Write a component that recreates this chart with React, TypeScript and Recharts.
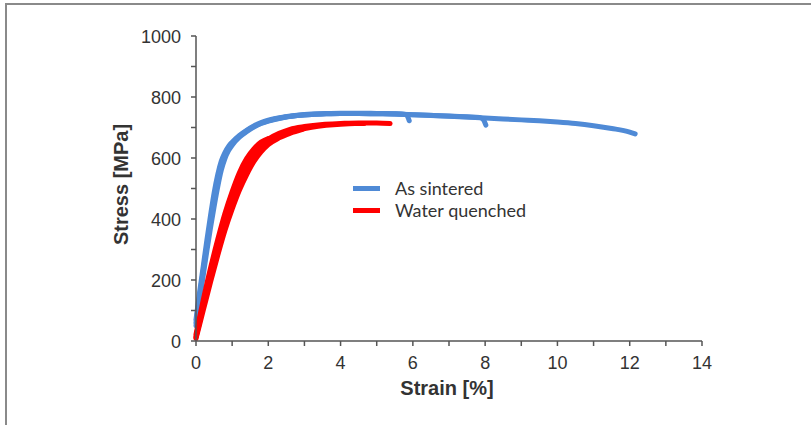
import React from 'react';
import { LineChart, Line, XAxis, YAxis, Legend, Label } from 'recharts';

// Axis ticks
const xTicks = [0, 1, 2, 3, 4, 5, 6, 7, 8, 9, 10, 11, 12, 13, 14];
const yTicks = [0, 100, 200, 300, 400, 500, 600, 700, 800, 900, 1000];

// As sintered – specimen A (fails ~5.9 %)
const sinteredStrainA = [0, 0.1, 0.2, 0.3, 0.4, 0.5, 0.6, 0.7, 0.8, 0.9, 1.0, 1.2, 1.4, 1.6, 1.8, 2.0, 2.4, 2.8, 3.2, 3.6, 4.0, 4.5, 5.0, 5.5, 5.8, 5.86, 5.9];
const sinteredStressA = [70, 160, 245, 330, 410, 485, 545, 590, 618, 638, 652, 674, 691, 705, 716, 724, 734, 740, 744, 746, 747, 747, 746, 745, 743, 735, 722];

// As sintered – specimen B (fails ~8.0 %)
const sinteredStrainB = [0, 0.1, 0.2, 0.3, 0.4, 0.5, 0.6, 0.7, 0.8, 0.9, 1.0, 1.2, 1.4, 1.6, 1.8, 2.0, 2.4, 2.8, 3.2, 3.6, 4.0, 4.5, 5.0, 5.5, 6.0, 6.5, 7.0, 7.5, 7.85, 7.95, 8.02];
const sinteredStressB = [50, 135, 215, 295, 370, 440, 505, 560, 598, 624, 642, 668, 686, 701, 713, 721, 732, 739, 743, 745, 746, 746, 745, 744, 742, 740, 738, 735, 733, 726, 708];

// As sintered – specimen C (fails ~12.15 %)
const sinteredStrainC = [0, 0.1, 0.2, 0.3, 0.4, 0.5, 0.6, 0.7, 0.8, 0.9, 1.0, 1.2, 1.4, 1.6, 1.8, 2.0, 2.4, 2.8, 3.2, 3.6, 4.0, 4.5, 5.0, 5.5, 6.0, 7.0, 8.0, 8.5, 9.0, 9.5, 10.0, 10.5, 11.0, 11.5, 12.0, 12.15];
const sinteredStressC = [60, 148, 230, 312, 390, 462, 525, 575, 608, 630, 646, 671, 689, 703, 714, 722, 733, 739, 743, 745, 746, 746, 745, 744, 742, 737, 731, 728, 725, 722, 718, 713, 706, 697, 685, 679];

// Water quenched – specimen A (fails ~5.37 %)
const quenchedStrainA = [0, 0.1, 0.2, 0.3, 0.4, 0.5, 0.6, 0.7, 0.8, 0.9, 1.0, 1.2, 1.4, 1.6, 1.8, 2.0, 2.3, 2.6, 3.0, 3.5, 4.0, 4.5, 5.0, 5.37];
const quenchedStressA = [15, 68, 122, 172, 220, 267, 313, 357, 400, 437, 470, 530, 580, 616, 643, 662, 681, 694, 703, 710, 713, 715, 715, 713];

// Water quenched – specimen B (fails ~2.95 %)
const quenchedStrainB = [0, 0.2, 0.4, 0.6, 0.8, 1.0, 1.2, 1.4, 1.6, 1.8, 2.0, 2.3, 2.6, 2.95];
const quenchedStressB = [8, 100, 192, 280, 362, 432, 494, 545, 588, 620, 644, 666, 681, 694];

// Water quenched – specimen C (fails ~2.0 %)
const quenchedStrainC = [0, 0.2, 0.4, 0.6, 0.8, 1.0, 1.2, 1.4, 1.6, 1.8, 2.0];
const quenchedStressC = [22, 134, 238, 332, 418, 490, 552, 598, 630, 652, 664];

// Water quenched – specimen D (fails ~4.65 %)
const quenchedStrainD = [0, 0.2, 0.4, 0.6, 0.8, 1.0, 1.2, 1.4, 1.6, 1.8, 2.0, 2.4, 2.8, 3.2, 3.6, 4.0, 4.4, 4.65];
const quenchedStressD = [12, 112, 208, 300, 385, 456, 518, 568, 606, 634, 654, 678, 692, 701, 707, 711, 713, 713];

const seriesNames = ['As sintered', 'Water quenched'];
const seriesColors = ['#4f8ad6', '#ff0000'];

const toPoints = (xs: number[], ys: number[]) => xs.map((x, i) => ({ x, y: ys[i] }));

const curves = [
  { key: 'sA', data: toPoints(sinteredStrainA, sinteredStressA), color: seriesColors[0] },
  { key: 'sB', data: toPoints(sinteredStrainB, sinteredStressB), color: seriesColors[0] },
  { key: 'sC', data: toPoints(sinteredStrainC, sinteredStressC), color: seriesColors[0] },
  { key: 'qB', data: toPoints(quenchedStrainB, quenchedStressB), color: seriesColors[1] },
  { key: 'qC', data: toPoints(quenchedStrainC, quenchedStressC), color: seriesColors[1] },
  { key: 'qD', data: toPoints(quenchedStrainD, quenchedStressD), color: seriesColors[1] },
  { key: 'qA', data: toPoints(quenchedStrainA, quenchedStressA), color: seriesColors[1] },
];

const tickFont = '"Liberation Sans", Arial, sans-serif';

const XTick = (props: any) => {
  const { x, y, payload } = props;
  if (payload.value % 2 !== 0) return <g />;
  return (
    <text x={x} y={y + 21} textAnchor="middle" fontSize={18} fontFamily={tickFont} fill="#333">
      {payload.value}
    </text>
  );
};

const YTick = (props: any) => {
  const { x, y, payload } = props;
  if (payload.value % 200 !== 0) return <g />;
  return (
    <text x={x - 8} y={y + 6.5} textAnchor="end" fontSize={18} fontFamily={tickFont} fill="#333">
      {payload.value}
    </text>
  );
};

const YTitle = (props: any) => {
  const vb = props.viewBox || { x: 136, y: 36, width: 60, height: 305 };
  const cx = vb.x - 15;
  const cy = vb.y + vb.height / 2 - 4;
  return (
    <text
      x={cx}
      y={cy}
      transform={`rotate(-90 ${cx} ${cy})`}
      textAnchor="middle"
      dominantBaseline="central"
      fontSize={20}
      fontWeight="bold"
      fontFamily={tickFont}
      fill="#333"
    >
      Stress [MPa]
    </text>
  );
};

const XTitle = (props: any) => {
  const vb = props.viewBox || { x: 196, y: 341, width: 506, height: 30 };
  const cx = vb.x + vb.width / 2 - 2;
  const cy = vb.y + 47;
  return (
    <text x={cx} y={cy} textAnchor="middle" dominantBaseline="central" fontSize={20} fontWeight="bold" fontFamily={tickFont} fill="#333">
      Strain [%]
    </text>
  );
};

const LegendContent = () => (
  <div style={{ fontFamily: 'Lato, "Open Sans", sans-serif', fontSize: 18, color: '#333' }}>
    {seriesNames.map((name, i) => (
      <div key={name} style={{ display: 'flex', alignItems: 'center', height: 22 }}>
        <span style={{ display: 'inline-block', width: 27, height: 5, background: seriesColors[i], marginRight: 15 }} />
        <span style={{ lineHeight: '22px' }}>{name}</span>
      </div>
    ))}
  </div>
);

export default function App() {
  return (
    <div style={{ position: 'absolute', left: 0, top: 0, width: 811, height: 425, background: '#fff', overflow: 'hidden' }}>
      <div
        style={{
          position: 'absolute',
          left: 5,
          top: 3,
          width: 820,
          height: 440,
          borderTop: '2px solid #8a8a8a',
          borderLeft: '2px solid #8a8a8a',
          boxSizing: 'border-box',
        }}
      />
      <LineChart width={811} height={425} margin={{ top: 36, right: 109, bottom: 54, left: 136 }}>
        <XAxis
          dataKey="x"
          type="number"
          domain={[0, 14]}
          ticks={xTicks}
          interval={0}
          allowDuplicatedCategory={false}
          height={30}
          tick={<XTick />}
          tickSize={5}
          axisLine={{ stroke: '#555', strokeWidth: 1.5 }}
          tickLine={{ stroke: '#555', strokeWidth: 1.5 }}
        >
          <Label content={<XTitle />} />
        </XAxis>
        <YAxis
          dataKey="y"
          type="number"
          domain={[0, 1000]}
          ticks={yTicks}
          interval={0}
          width={60}
          tick={<YTick />}
          tickSize={5}
          axisLine={{ stroke: '#555', strokeWidth: 1.5 }}
          tickLine={{ stroke: '#555', strokeWidth: 1.5 }}
        >
          <Label content={<YTitle />} />
        </YAxis>
        <Legend
          layout="vertical"
          align="center"
          verticalAlign="middle"
          content={<LegendContent />}
          wrapperStyle={{ left: 353, top: 177, width: 220 }}
        />
        {curves.map((c) => (
          <Line
            key={c.key}
            data={c.data}
            dataKey="y"
            type="monotone"
            stroke={c.color}
            strokeWidth={5}
            strokeLinecap="round"
            strokeLinejoin="round"
            dot={false}
            activeDot={false}
            legendType="none"
            isAnimationActive={false}
          />
        ))}
      </LineChart>
    </div>
  );
}
